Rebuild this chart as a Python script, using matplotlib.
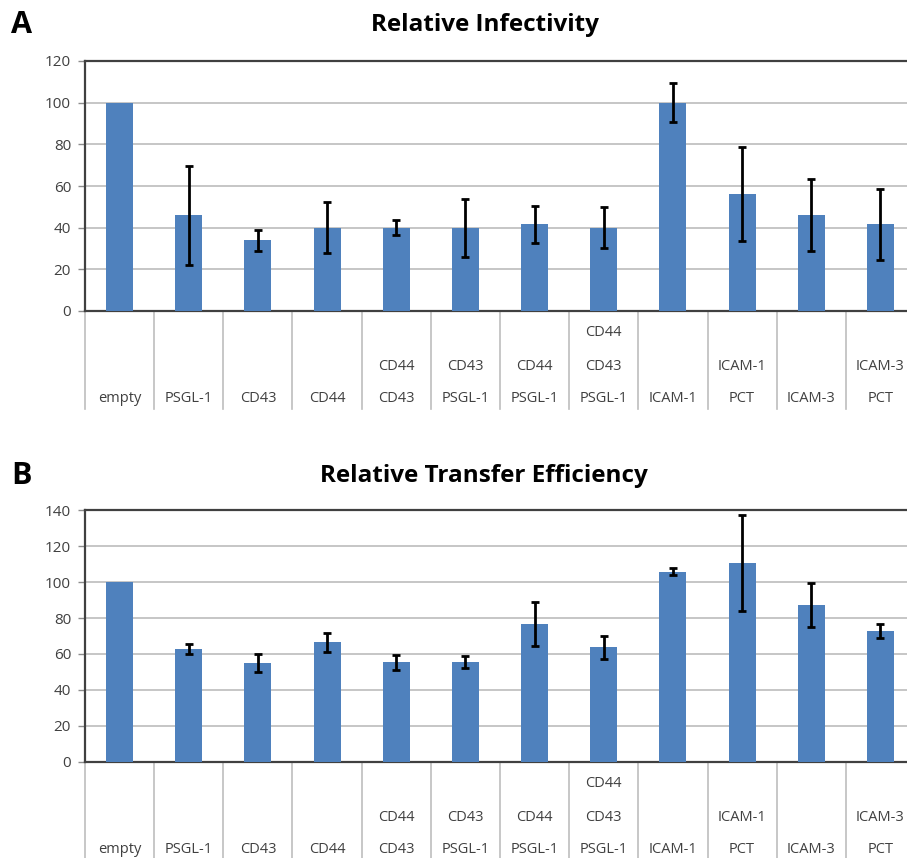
import numpy as np
import matplotlib
matplotlib.use("Agg")
import matplotlib.pyplot as plt
from matplotlib.transforms import blended_transform_factory

plt.rcParams['font.family'] = ['Open Sans', 'DejaVu Sans']

# category labels, one list per row (top, middle, bottom)
row_top = ["", "", "", "", "", "", "", "CD44", "", "", "", ""]
row_mid = ["", "", "", "", "CD44", "CD43", "CD44", "CD43", "", "ICAM-1", "", "ICAM-3"]
row_bot = ["empty", "PSGL-1", "CD43", "CD44", "CD43", "PSGL-1", "PSGL-1", "PSGL-1",
           "ICAM-1", "PCT", "ICAM-3", "PCT"]

# panel A: relative infectivity
infect = [100, 46, 34, 40, 40, 40, 41.6, 40, 100, 56, 46, 41.6]
infect_err = [0, 23.7, 5, 12.3, 3.5, 14, 8.9, 9.7, 9.5, 22.6, 17.2, 16.9]

# panel B: relative transfer efficiency
transfer = [100, 62.8, 54.8, 66.5, 55.3, 55.3, 76.5, 63.7, 105.8, 110.6, 87.1, 72.8]
transfer_err = [0, 2.9, 4.9, 5.2, 4.2, 3.3, 12.3, 6.5, 2.1, 26.9, 12.3, 3.9]

BLUE = '#4f81bd'
DARK = '#404040'
GRID = '#c6c6c6'

fig = plt.figure(figsize=(9.07, 8.58), dpi=100)


def panel(rect, vals, errs, ymax, step):
    ax = fig.add_axes(rect)
    x = np.arange(len(vals))
    yerr = [np.nan if e == 0 else e for e in errs]
    ax.bar(x, vals, width=0.39, color=BLUE, zorder=3)
    ax.errorbar(x, vals, yerr=yerr, fmt='none', ecolor='black', elinewidth=2,
                capsize=3, capthick=2, zorder=4)
    ax.set_xlim(-0.5, len(vals) - 0.5)
    ax.set_ylim(0, ymax)
    ax.set_yticks(np.arange(0, ymax + 1, step))
    ax.yaxis.grid(True, color=GRID, linewidth=1.4, zorder=0)
    ax.set_xticks([])
    ax.tick_params(axis='y', length=5, width=1, color='#8c8c8c', colors=DARK,
                   labelsize=11, pad=5)
    for s in ['left', 'bottom', 'top']:
        ax.spines[s].set_color(DARK)
        ax.spines[s].set_linewidth(1.6)
    ax.spines['right'].set_visible(False)

    trans = blended_transform_factory(ax.transData, ax.transAxes)
    for b in np.arange(-0.5, len(vals), 1.0):
        ax.plot([b, b], [0, -0.39], transform=trans, color='#bdbdbd',
                linewidth=1.2, clip_on=False)
    for i in range(len(vals)):
        for txt, off in ((row_top[i], -22), (row_mid[i], -56), (row_bot[i], -88)):
            if txt:
                ax.annotate(txt, xy=(i, 0), xycoords=trans,
                            xytext=(0, off), textcoords='offset pixels',
                            ha='center', va='center', fontsize=10.5, color=DARK)
    return ax


panel([85 / 907, 1 - 311 / 858, 830 / 907, 250 / 858], infect, infect_err, 120, 20)
panel([85 / 907, 1 - 761.7 / 858, 830 / 907, 251.4 / 858], transfer, transfer_err, 140, 20)

fig.text(485 / 907, 1 - 31 / 858, "Relative Infectivity", ha='center', va='baseline',
         fontsize=17.5, fontweight='bold', color='black')
fig.text(484 / 907, 1 - 482 / 858, "Relative Transfer Efficiency", ha='center',
         va='baseline', fontsize=17.5, fontweight='bold', color='black')
fig.text(11 / 907, 1 - 33 / 858, "A", ha='left', va='baseline', fontsize=22,
         fontweight='bold')
fig.text(11 / 907, 1 - 484 / 858, "B", ha='left', va='baseline', fontsize=22,
         fontweight='bold')

fig.savefig("out.png", dpi=100)
